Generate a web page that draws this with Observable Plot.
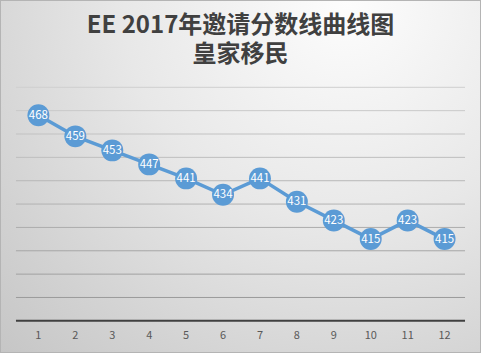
<!DOCTYPE html>
<html>
<head>
<meta charset="utf-8">
<script src="https://cdn.jsdelivr.net/npm/d3@7"></script>
<script src="https://cdn.jsdelivr.net/npm/@observablehq/plot@0.6"></script>
<style>
  html, body { margin: 0; padding: 0; background: #fff; }
  #wrap {
    position: relative; width: 481px; height: 353px; box-sizing: border-box;
    border: 1px solid #b4b4b4; overflow: hidden;
    background: radial-gradient(circle farthest-corner at 72% 0%, #fdfdfd 0%, #e8e8e8 45%, #d2d2d2 80%, #c6c6c6 100%);
  }
  .title {
    position: absolute; left: 0; right: 0; text-align: center;
    font-family: "Noto Sans CJK SC", "Noto Sans", sans-serif; font-weight: bold;
    font-size: 24px; line-height: 24px; color: #404040; white-space: nowrap;
  }
  #t1 { top: 10px; }
  #t2 { top: 39px; }
  #chart { position: absolute; left: -1px; top: -1px; }
</style>
</head>
<body>
<div id="wrap">
  <div class="title" id="t1">EE 2017年邀请分数线曲线图</div>
  <div class="title" id="t2">皇家移民</div>
  <div id="chart"></div>
</div>
<script>
const months = [1, 2, 3, 4, 5, 6, 7, 8, 9, 10, 11, 12];
const scores = [468, 459, 453, 447, 441, 434, 441, 431, 423, 415, 423, 415];
const gridValues = [390, 400, 410, 420, 430, 440, 450, 460, 470, 480];
const yMin = 380, yMax = 480;

const data = months.map((m, i) => ({month: m, score: scores[i]}));
const gridColor = d3.interpolateRgb("#cfcfcf", "#959595");

const chart = Plot.plot({
  width: 481,
  height: 353,
  marginTop: 87,
  marginBottom: 32,
  marginLeft: 16,
  marginRight: 15,
  style: {background: "transparent", fontFamily: "'Noto Sans CJK SC', 'Noto Sans', sans-serif"},
  x: {type: "point", domain: months, range: [34.5, 447.7], padding: 0, label: null},
  y: {domain: [yMin, yMax], axis: null},
  marks: [
    Plot.ruleY(gridValues, {stroke: d => gridColor((yMax - d) / (yMax - yMin)), strokeWidth: 1}),
    Plot.ruleY([yMin], {stroke: "#404040", strokeWidth: 2}),
    Plot.axisX({tickSize: 0, tickPadding: 10, fontSize: 11, color: "#595959", label: null}),
    Plot.line(data, {x: "month", y: "score", stroke: "#5b9bd5", strokeWidth: 3.5}),
    Plot.dot(data, {x: "month", y: "score", r: 11, fill: "#5b9bd5", stroke: "none"}),
    Plot.text(data, {x: "month", y: "score", text: d => String(d.score), fill: "white", fontSize: 11.5})
  ]
});
document.getElementById("chart").appendChild(chart);
</script>
</body>
</html>
